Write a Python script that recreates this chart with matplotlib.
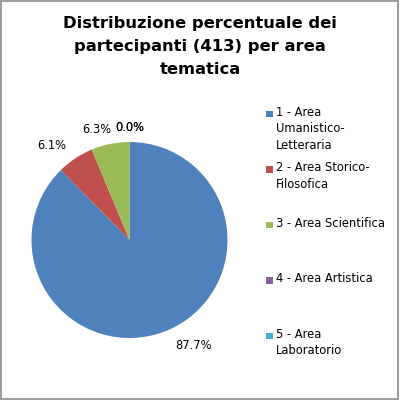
import matplotlib
matplotlib.use("Agg")
import numpy as np
import matplotlib.pyplot as plt
from matplotlib.patches import Rectangle

title = "Distribuzione percentuale dei\npartecipanti (413) per area\ntematica"
categories = ["1 - Area\nUmanistico-\nLetteraria",
              "2 - Area Storico-\nFilosofica",
              "3 - Area Scientifica",
              "4 - Area Artistica",
              "5 - Area\nLaboratorio"]
counts = [362, 25, 26, 0, 0]
colors = ["#4F81BD", "#C0504D", "#9BBB59", "#8064A2", "#4BACC6"]

plt.rcParams['font.family'] = ['DejaVu Sans']

fig = plt.figure(figsize=(4, 4), dpi=100)
fig.patch.set_facecolor("white")

# border
fig.patches.append(Rectangle((0.002, 0.002), 0.993, 0.995, transform=fig.transFigure,
                             fill=False, edgecolor="#8C8C8C", linewidth=1.2))

fig.text(0.5, 0.959, title, ha="center", va="top", fontsize=11.8,
         fontweight="bold", linespacing=1.65)

cx, cy, r = 129.5 / 400, 1 - 240 / 400, 98 / 400
ax = fig.add_axes([cx - r, cy - r, 2 * r, 2 * r])
wedges, texts, autotexts = ax.pie(
    counts, colors=colors, startangle=90, counterclock=False,
    autopct=lambda p: f"{p:.1f}%", pctdistance=1.22,
    wedgeprops=dict(linewidth=0),
    textprops=dict(fontsize=8.3, color="black"))
# Excel "best fit" label placement: nudge labels around the rim
label_shift = [9, 6, 5, 0, 0]
label_dist = [1.26, 1.25, 1.18, 1.15, 1.15]
for w, t, s, d in zip(wedges, autotexts, label_shift, label_dist):
    ang = np.deg2rad((w.theta1 + w.theta2) / 2 + s)
    t.set_position((d * np.cos(ang), d * np.sin(ang)))
ax.set_xlim(-1, 1)
ax.set_ylim(-1, 1)
ax.set_aspect("equal")
ax.axis("off")

# legend (manual, evenly spaced like Excel)
y0 = 1 - 114 / 400
step = 55.5 / 400
for i, (lab, col) in enumerate(zip(categories, colors)):
    y = y0 - i * step
    fig.patches.append(Rectangle((266 / 400, y - 3.25 / 400), 6.5 / 400, 6.5 / 400,
                                 transform=fig.transFigure, facecolor=col,
                                 edgecolor="none"))
    fig.text(276 / 400, y + 8 / 400, lab, ha="left", va="top", fontsize=8.3,
             linespacing=1.33)

fig.savefig("out.png", dpi=100, facecolor="white")
